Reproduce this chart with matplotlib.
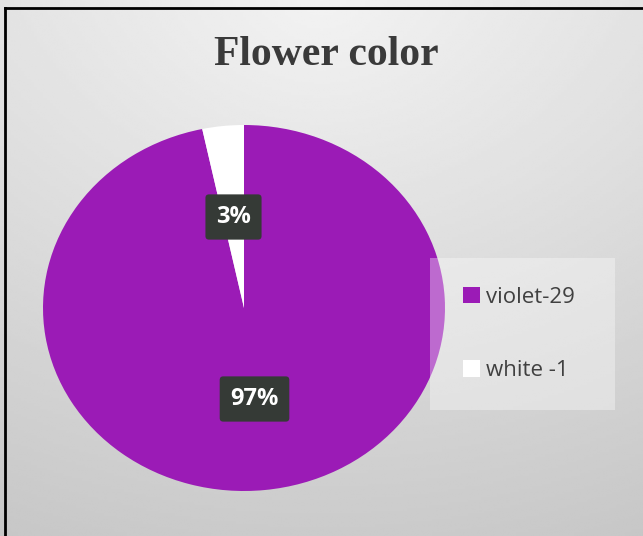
''' pie chart: flower color '''
import numpy as np
import matplotlib
matplotlib.use('Agg')
import matplotlib.pyplot as plt
from matplotlib.patches import Rectangle
from matplotlib.lines import Line2D

# data
labels = ['violet-29', 'white -1']
counts = [29, 1]
colors = ['#9B1BB6', '#FFFFFF']
title = 'Flower color'

W, H = 643, 536
fig = plt.figure(figsize=(W / 100, H / 100), dpi=100)

# background gradient
bg = fig.add_axes([0, 0, 1, 1], zorder=-10)
yy, xx = np.mgrid[0:1:200j, 0:1:200j]
r = np.sqrt(((xx - 0.5) * 1.0) ** 2 + (yy * 0.9) ** 2)
shade = 0.95 - 0.14 * np.clip(r, 0, 1.2) / 1.2 - 0.05 * yy
bg.imshow(shade, cmap='gray', vmin=0, vmax=1, extent=(0, 1, 0, 1),
          aspect='auto', origin='upper', interpolation='bilinear')
bg.set_xlim(0, 1)
bg.set_ylim(0, 1)
bg.axis('off')

# border (top and left visible)
fig.add_artist(Line2D([5 / W, 5 / W], [0, 1 - 8 / H], color='black', lw=2, transform=fig.transFigure))
fig.add_artist(Line2D([5 / W, 1], [1 - 8 / H, 1 - 8 / H], color='black', lw=2, transform=fig.transFigure))

# pie axes, slightly wider than tall
cx, cy, rx, ry = 244, 308, 201, 183
ax = fig.add_axes([(cx - rx) / W, (H - cy - ry) / H, 2 * rx / W, 2 * ry / H])
wedges, texts, autotexts = ax.pie(
    counts, colors=colors, startangle=90, counterclock=False,
    autopct='%1.0f%%', pctdistance=0.5,
    wedgeprops=dict(linewidth=0),
    textprops=dict(color='white', fontsize=17, fontweight='bold', family=['Open Sans', 'DejaVu Sans'])
)
for t in autotexts:
    t.set_bbox(dict(boxstyle='round,pad=0.45,rounding_size=0.15', fc='#353a36', ec='none'))
ax.set_aspect('auto')
ax.set_xlim(-1, 1)
ax.set_ylim(-1, 1)

fig.text(326 / W, 1 - 55 / H, title, ha='center', va='center', fontsize=30,
         fontweight='bold', color='#3a3a3a', family='Liberation Serif')

# legend box
fig.add_artist(Rectangle((430 / W, 1 - 410 / H), 185 / W, 152 / H, transform=fig.transFigure,
                         fc='white', alpha=0.35, ec='none', zorder=5))
handles = [Rectangle((0, 0), 1, 1, fc=c, ec='none') for c in colors]
leg = fig.legend(handles, labels, loc='upper left', bbox_to_anchor=(443 / W, 1 - 267 / H),
                 frameon=False, labelspacing=2.35, handlelength=0.75,
                 handleheight=0.75, handletextpad=0.3,
                 prop=dict(family='Open Sans', size=16))
for t in leg.get_texts():
    t.set_color('#404040')
leg.set_zorder(6)

fig.savefig('out.png', dpi=100)
